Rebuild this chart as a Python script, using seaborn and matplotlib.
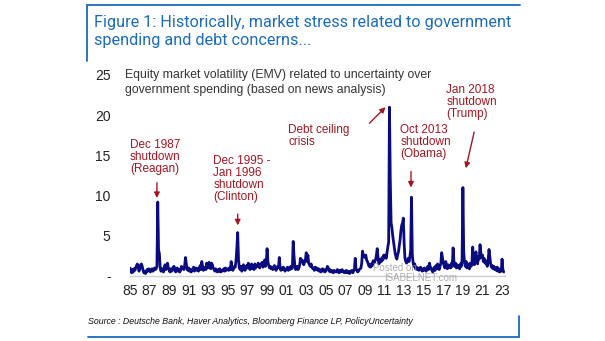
import matplotlib
matplotlib.use("Agg")
import matplotlib.pyplot as plt
import seaborn as sns
import numpy as np
import pandas as pd

# ---- data (monthly EMV government spending index) ----
start_year = 1985
emv_1985 = [1.0, 0.6, 0.4, 0.8, 0.5, 0.9, 0.7, 1.0, 1.3, 1.5, 1.2, 0.6]
emv_1986 = [0.9, 1.4, 1.5, 1.2, 0.7, 0.4, 0.6, 0.3, 0.5, 0.8, 0.6, 0.9]
emv_1987 = [0.7, 0.5, 0.8, 0.9, 0.6, 0.7, 1.0, 0.8, 0.9, 1.2, 9.2, 3.2]
emv_1988 = [2.8, 1.0, 0.6, 0.9, 0.7, 0.5, 1.1, 1.4, 0.8, 1.2, 1.6, 1.0]
emv_1989 = [0.7, 0.5, 0.9, 0.6, 0.8, 1.1, 1.2, 0.7, 0.5, 0.9, 1.0, 0.6]
emv_1990 = [0.8, 0.5, 0.7, 1.2, 0.9, 1.0, 0.8, 1.3, 2.3, 1.5, 0.8, 0.7]
emv_1991 = [1.0, 0.6, 0.8, 0.5, 0.7, 0.9, 1.1, 0.6, 0.8, 1.0, 0.7, 0.9]
emv_1992 = [0.6, 1.0, 1.3, 0.8, 1.8, 1.2, 0.7, 0.9, 1.1, 0.8, 1.6, 1.0]
emv_1993 = [1.3, 1.7, 1.0, 0.9, 1.6, 1.4, 1.0, 0.8, 0.6, 0.9, 0.7, 0.5]
emv_1994 = [0.8, 0.6, 0.9, 0.5, 0.7, 0.6, 0.8, 0.9, 0.6, 1.0, 0.7, 0.8]
emv_1995 = [0.9, 0.7, 1.0, 0.8, 1.8, 1.0, 0.7, 0.9, 1.2, 1.1, 2.0, 3.5]
emv_1996 = [5.4, 2.0, 1.0, 0.8, 1.2, 0.6, 0.9, 1.4, 1.0, 0.7, 1.1, 1.3]
emv_1997 = [1.0, 1.6, 1.1, 0.8, 1.3, 1.5, 0.9, 1.2, 0.8, 1.5, 1.0, 1.3]
emv_1998 = [1.2, 1.6, 1.4, 1.0, 1.5, 1.3, 1.7, 1.1, 1.4, 2.0, 1.2, 1.6]
emv_1999 = [3.4, 1.8, 1.3, 1.0, 1.2, 0.9, 1.1, 0.8, 1.0, 1.3, 0.9, 0.7]
emv_2000 = [0.9, 1.2, 1.1, 2.3, 0.9, 0.7, 1.0, 0.8, 1.1, 0.9, 0.6, 0.8]
emv_2001 = [0.9, 1.1, 0.7, 1.0, 0.8, 1.2, 0.9, 1.0, 4.3, 2.5, 1.3, 0.8]
emv_2002 = [0.9, 1.2, 0.8, 1.0, 1.4, 2.2, 1.8, 2.0, 1.6, 1.4, 1.8, 2.0]
emv_2003 = [2.9, 1.8, 2.6, 1.6, 1.4, 1.2, 1.5, 1.1, 0.9, 1.0, 0.7, 1.1]
emv_2004 = [0.8, 1.0, 0.7, 0.9, 0.6, 0.8, 0.5, 0.7, 0.9, 0.6, 0.8, 0.5]
emv_2005 = [0.7, 0.9, 1.2, 1.0, 0.6, 0.8, 0.5, 0.7, 0.6, 0.4, 0.7, 0.5]
emv_2006 = [0.6, 0.5, 0.8, 0.6, 0.4, 0.7, 0.5, 0.6, 0.8, 0.5, 0.6, 0.4]
emv_2007 = [0.5, 0.7, 0.4, 0.6, 0.5, 0.3, 0.6, 0.5, 0.7, 0.4, 0.6, 0.8]
emv_2008 = [2.2, 0.9, 0.7, 0.5, 0.6, 0.8, 0.9, 1.0, 1.6, 3.1, 2.4, 2.6]
emv_2009 = [2.3, 2.6, 2.0, 1.8, 1.5, 1.2, 1.4, 1.1, 1.5, 1.3, 1.9, 1.6]
emv_2010 = [1.8, 2.0, 2.6, 3.4, 2.3, 1.5, 1.7, 2.1, 1.8, 2.3, 2.0, 2.6]
emv_2011 = [2.3, 2.6, 2.2, 2.9, 3.6, 4.2, 21.0, 12.0, 6.6, 6.0, 5.0, 4.2]
emv_2012 = [3.5, 2.8, 2.4, 2.1, 2.6, 3.0, 3.8, 4.5, 5.6, 6.3, 6.6, 7.2]
emv_2013 = [4.0, 2.2, 1.8, 1.6, 1.9, 2.2, 1.8, 2.4, 3.2, 9.8, 2.6, 1.6]
emv_2014 = [1.2, 1.5, 0.9, 1.1, 0.8, 1.0, 0.7, 0.9, 1.1, 0.8, 0.6, 0.9]
emv_2015 = [0.7, 1.0, 0.8, 0.6, 0.9, 1.2, 0.8, 1.6, 1.1, 1.0, 0.7, 0.5]
emv_2016 = [0.8, 1.1, 0.7, 1.3, 0.9, 1.5, 1.0, 0.8, 1.2, 1.6, 2.9, 2.2]
emv_2017 = [1.6, 1.3, 1.0, 1.8, 1.2, 0.9, 1.4, 1.1, 1.3, 1.0, 1.6, 1.2]
emv_2018 = [3.5, 1.8, 1.2, 1.6, 1.0, 1.4, 1.1, 1.3, 0.9, 1.5, 1.2, 2.0]
emv_2019 = [11.0, 3.0, 1.6, 1.2, 1.8, 1.0, 1.5, 1.3, 0.9, 1.6, 1.2, 1.4]
emv_2020 = [3.6, 2.0, 1.4, 2.2, 3.0, 2.0, 1.5, 2.4, 2.1, 3.9, 2.8, 2.3]
emv_2021 = [2.6, 1.8, 2.2, 1.6, 1.9, 1.4, 1.2, 2.0, 3.3, 2.4, 1.5, 1.1]
emv_2022 = [1.3, 0.9, 1.2, 0.8, 1.0, 0.7, 1.1, 0.6, 0.9, 0.5, 0.8, 0.6]
emv_2023 = [2.1, 0.8, 0.5]

yearly = [emv_1985, emv_1986, emv_1987, emv_1988, emv_1989, emv_1990, emv_1991,
          emv_1992, emv_1993, emv_1994, emv_1995, emv_1996, emv_1997, emv_1998,
          emv_1999, emv_2000, emv_2001, emv_2002, emv_2003, emv_2004, emv_2005,
          emv_2006, emv_2007, emv_2008, emv_2009, emv_2010, emv_2011, emv_2012,
          emv_2013, emv_2014, emv_2015, emv_2016, emv_2017, emv_2018, emv_2019,
          emv_2020, emv_2021, emv_2022, emv_2023]

ytick_values = [0, 5, 10, 15, 20, 25]
ytick_labels = ["-", "5", "10", "15", "20", "25"]
xtick_years = list(range(1985, 2024, 2))
xtick_labels = [f"{y % 100:02d}" for y in xtick_years]

title_text = "Figure 1: Historically, market stress related to government\nspending and debt concerns..."
subtitle_text = ("Equity market volatility (EMV) related to uncertainty over\n"
                 "government spending (based on news analysis)")
source_text = "Source : Deutsche Bank, Haver Analytics, Bloomberg Finance LP, PolicyUncertainty"

# annotations: text, text anchor (year, value), arrow tail, arrow head
annotations = [
    ("Dec 1987\nshutdown\n(Reagan)", (1985.0, 17.0), (1987.75, 11.6), (1987.75, 9.7)),
    ("Dec 1995 -\nJan 1996\nshutdown\n(Clinton)", (1993.5, 15.0), (1996.0, 7.7), (1996.0, 6.3)),
    ("Debt ceiling\ncrisis", (2001.15, 18.9), (2009.45, 19.0), (2011.1, 21.0)),
    ("Oct 2013\nshutdown\n(Obama)", (2012.6, 18.9), (2013.7, 13.0), (2013.7, 11.0)),
    ("Jan 2018\nshutdown\n(Trump)", (2017.3, 23.9), (2020.15, 17.9), (2019.3, 13.4)),
]

# ---- build frame ----
rows = []
for i, vals in enumerate(yearly):
    for m, v in enumerate(vals):
        rows.append({"t": start_year + i + m / 12.0, "emv": v})
df = pd.DataFrame(rows)

sns.set_theme(style="white")
plt.rcParams["font.family"] = ["Liberation Sans", "DejaVu Sans"]

W, H = 605, 341
fig = plt.figure(figsize=(W / 100, H / 100), dpi=100)
fig.patch.set_facecolor("white")

ax = fig.add_axes([130 / W, 65 / H, 375 / W, 201 / H])
sns.lineplot(data=df, x="t", y="emv", ax=ax, color="#0b0b80", linewidth=2.0)

ax.set_xlim(1985, 2023.3)
ax.set_ylim(0, 25)
ax.set_xticks(xtick_years)
ax.set_xticklabels(xtick_labels)
ax.set_yticks(ytick_values)
ax.set_yticklabels(ytick_labels)
ax.set_xlabel("")
ax.set_ylabel("")
for s in ["top", "right", "left"]:
    ax.spines[s].set_visible(False)
ax.spines["bottom"].set_color("#d0d0d0")
ax.spines["bottom"].set_linewidth(1.0)
ax.tick_params(axis="both", length=0, labelsize=10, colors="#222222")
ax.tick_params(axis="y", pad=14)
ax.tick_params(axis="x", pad=6)
ax.patch.set_alpha(0)

red = "#a31621"
for text, (tx, ty), tail, head in annotations:
    ax.text(tx, ty, text, color=red, fontsize=8.5, ha="left", va="top",
            linespacing=1.0, clip_on=False)
    ax.annotate("", xy=head, xytext=tail,
                arrowprops=dict(arrowstyle="-|>", color=red, lw=1.0,
                                mutation_scale=8, shrinkA=0, shrinkB=0),
                annotation_clip=False)

def fx(px):
    return px / W

def fy(py):
    return 1 - py / H

# subtitle
fig.text(fx(125), fy(69), subtitle_text, color="#333333", fontsize=8.8,
         ha="left", va="top", linespacing=1.3)

# title and frame
blue = "#1a6cbf"
fig.text(fx(94), fy(15), title_text, color=blue, fontsize=11.7, ha="left",
         va="top", linespacing=1.25, family=["Roboto", "DejaVu Sans"])
fig.add_artist(plt.Line2D([fx(87), fx(520)], [fy(5), fy(5)], color=blue, lw=1.3))
fig.add_artist(plt.Line2D([fx(87), fx(87)], [fy(5), fy(61)], color=blue, lw=1.3))

# source and frame
fig.text(fx(88), fy(321), source_text, color="#111111", fontsize=6.3,
         style="italic", ha="left", va="center")
fig.add_artist(plt.Line2D([fx(88), fx(519)], [fy(337), fy(337)], color=blue, lw=1.3))
fig.add_artist(plt.Line2D([fx(519), fx(519)], [fy(316), fy(337)], color=blue, lw=1.3))

# watermark
fig.text(fx(373), fy(268), "Posted on", color="#9a9a9a", fontsize=7, alpha=0.8,
         ha="left", va="center")
fig.text(fx(384), fy(278), "ISABELNET.com", color="#9a9a9a", fontsize=7, alpha=0.8,
         ha="left", va="center")

fig.savefig("out.png", dpi=100)
